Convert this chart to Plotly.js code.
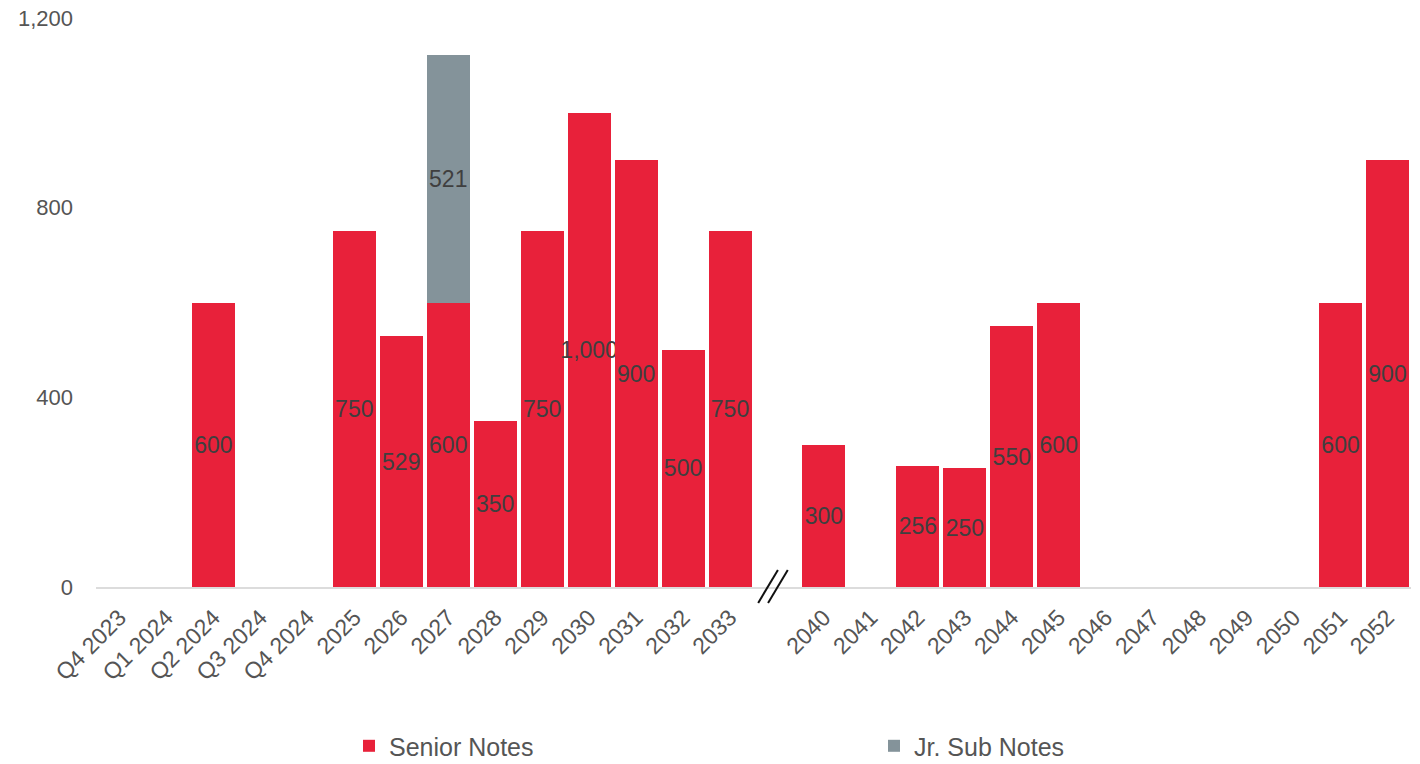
<!DOCTYPE html>
<html>
<head>
<meta charset="utf-8">
<script src="https://cdn.plot.ly/plotly-3.0.1.min.js"></script>
<style>html,body{margin:0;padding:0;background:#fff;}#chart{width:1420px;height:764px;}</style>
</head>
<body>
<div id="chart"></div>
<script>
var categories = ["Q4 2023","Q1 2024","Q2 2024","Q3 2024","Q4 2024","2025","2026","2027","2028","2029","2030","2031","2032","2033"," ","2040","2041","2042","2043","2044","2045","2046","2047","2048","2049","2050","2051","2052"];
var seniorNotes = [null,null,600,null,null,750,529,600,350,750,1000,900,500,750,null,300,null,256,250,550,600,null,null,null,null,null,600,900];
var jrSubNotes  = [null,null,null,null,null,null,null,521,null,null,null,null,null,null,null,null,null,null,null,null,null,null,null,null,null,null,null,null];
var yTicks = [0,400,800,1200];

var FONT = "Liberation Sans, Arial, sans-serif";
var labelFont = {family: FONT, size: 23, color: "#3f3f3f"};

var traces = [
  {
    type: "bar", name: "Senior Notes", x: categories, y: seniorNotes,
    marker: {color: "#E8213A", line: {width: 0}},
    texttemplate: "%{y:,}", textposition: "inside", insidetextanchor: "middle",
    textangle: 0, constraintext: "none", insidetextfont: labelFont,
    hoverinfo: "x+y"
  },
  {
    type: "bar", name: "Jr. Sub Notes", x: categories, y: jrSubNotes,
    marker: {color: "#84939A", line: {width: 0}},
    texttemplate: "%{y:,}", textposition: "inside", insidetextanchor: "middle",
    textangle: 0, constraintext: "none", insidetextfont: labelFont,
    hoverinfo: "x+y"
  }
];

var gapIdx = categories.indexOf(" ");

var layout = {
  width: 1420, height: 764,
  margin: {l: 95.5, r: 8.5, t: 18, b: 177, autoexpand: false},
  paper_bgcolor: "#fff", plot_bgcolor: "#fff",
  barmode: "stack", bargap: 0.085,
  font: {family: FONT, color: "#555"},
  showlegend: true,
  legend: {
    orientation: "h", xref: "paper", x: 0.1924, xanchor: "left",
    yref: "container", y: 0.0235, yanchor: "middle",
    font: {family: FONT, size: 25, color: "#555"},
    entrywidth: 480, traceorder: "normal"
  },
  xaxis: {
    type: "category", categoryorder: "array", categoryarray: categories,
    tickangle: -45, tickfont: {family: FONT, size: 23, color: "#555"},
    showgrid: false, zeroline: false, showline: true, linecolor: "#dcdcdc", linewidth: 2,
    ticks: "", range: [-0.5, categories.length - 0.5], ticklabelstandoff: 6,
    automargin: false
  },
  yaxis: {
    range: [0, 1200], tickvals: yTicks, tickformat: ",",
    tickfont: {family: FONT, size: 22, color: "#555"},
    showgrid: false, zeroline: false, showline: false, ticks: "",
    ticklabelstandoff: 22, automargin: false
  },
  shapes: [
    {type: "line", xref: "x", yref: "paper", x0: gapIdx - 0.40, x1: gapIdx + 0.02, y0: -0.028, y1: 0.030, line: {color: "#111", width: 2}},
    {type: "line", xref: "x", yref: "paper", x0: gapIdx - 0.19, x1: gapIdx + 0.23, y0: -0.028, y1: 0.030, line: {color: "#111", width: 2}}
  ]
};

Plotly.newPlot("chart", traces, layout, {displayModeBar: false, staticPlot: true});
</script>
</body>
</html>
